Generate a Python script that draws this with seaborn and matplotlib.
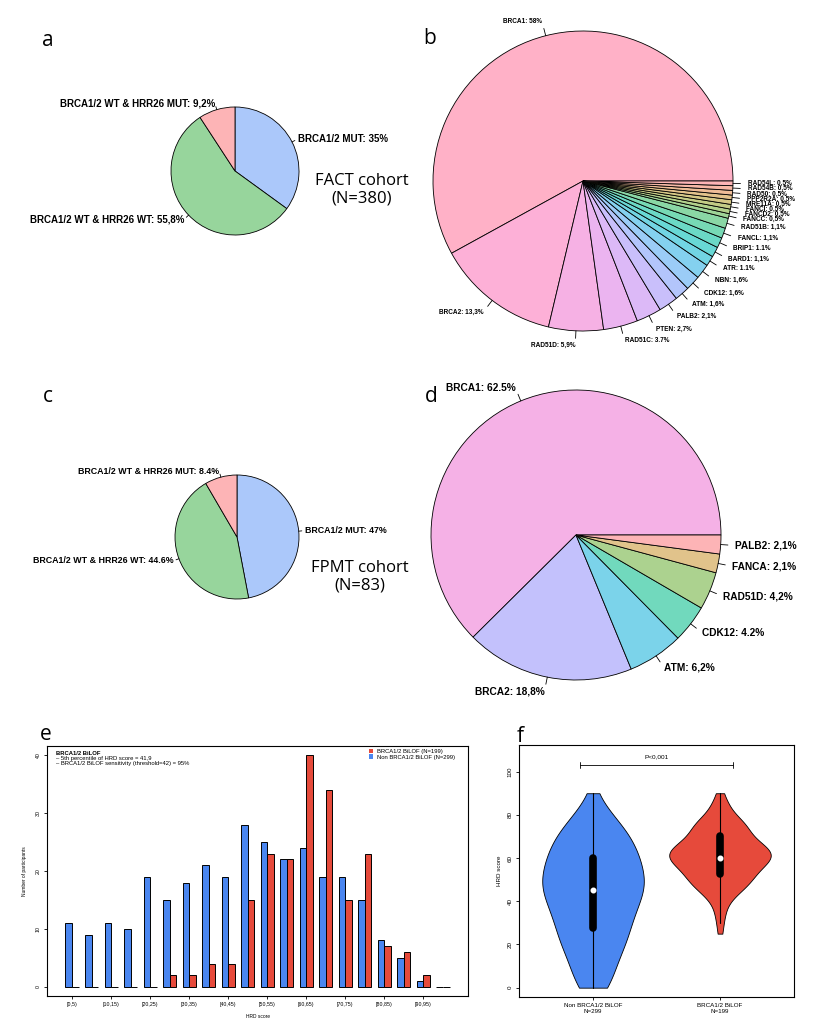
import numpy as np
import pandas as pd
import matplotlib
matplotlib.use("Agg")
import matplotlib.pyplot as plt
from matplotlib.patches import Patch
import seaborn as sns
from seaborn.external import husl

# panels a / c: BRCA1/2 and HRR26 status
fact_status_pct = [35, 55.8, 9.2]
fact_status_labels = ["BRCA1/2 MUT: 35%", "BRCA1/2 WT & HRR26 WT: 55,8%",
                      "BRCA1/2 WT & HRR26 MUT: 9,2%"]
fpmt_status_pct = [47, 44.6, 8.4]
fpmt_status_labels = ["BRCA1/2 MUT: 47%", "BRCA1/2 WT & HRR26 WT: 44.6%",
                      "BRCA1/2 WT & HRR26 MUT: 8.4%"]

# panel b: mutated genes, FACT cohort
fact_genes = ["BRCA1", "BRCA2", "RAD51D", "RAD51C", "PTEN", "PALB2", "ATM", "CDK12",
              "NBN", "ATR", "BARD1", "BRIP1", "FANCL", "RAD51B", "FANCC", "FANCD2",
              "FANCI", "MRE11A", "PPP2R2A", "RAD50", "RAD54B", "RAD54L"]
fact_pct = [58, 13.3, 5.9, 3.7, 2.7, 2.1, 1.6, 1.6, 1.6, 1.1, 1.1, 1.1, 1.1, 1.1,
            0.5, 0.5, 0.5, 0.5, 0.5, 0.5, 0.5, 0.5]
fact_pct_txt = ["58%", "13,3%", "5,9%", "3.7%", "2,7%", "2,1%", "1,6%", "1,6%", "1,6%",
                "1.1%", "1,1%", "1.1%", "1,1%", "1,1%", "0,5%", "0,5%", "0,5%", "0,5%",
                "0,5%", "0,5%", "0,5%", "0,5%"]

# panel d: mutated genes, FPMT cohort
fpmt_genes = ["BRCA1", "BRCA2", "ATM", "CDK12", "RAD51D", "FANCA", "PALB2"]
fpmt_pct = [62.5, 18.8, 6.2, 4.2, 4.2, 2.1, 2.1]
fpmt_pct_txt = ["62.5%", "18,8%", "6,2%", "4.2%", "4,2%", "2,1%", "2,1%"]

# panel e / f: HRD score distribution
hrd_bins = ["[0,5)", "[5,10)", "[10,15)", "[15,20)", "[20,25)", "[25,30)", "[30,35)",
            "[35,40)", "[40,45)", "[45,50)", "[50,55)", "[55,60)", "[60,65)", "[65,70)",
            "[70,75)", "[75,80)", "[80,85)", "[85,90)", "[90,95)", "[95,100)"]
hrd_bin_lo = [0, 5, 10, 15, 20, 25, 30, 35, 40, 45, 50, 55, 60, 65, 70, 75, 80, 85, 90, 95]
count_non = [11, 9, 11, 10, 19, 15, 18, 21, 19, 28, 25, 22, 24, 19, 19, 15, 8, 5, 1, 0]
count_bilof = [0, 0, 0, 0, 0, 2, 2, 4, 4, 15, 23, 22, 40, 34, 15, 23, 7, 6, 2, 0]
grp_non = "Non BRCA1/2 BiLOF"
grp_bilof = "BRCA1/2 BiLOF"

BLUE = "#4A86F0"
RED = "#E64A3B"

sns.set_theme(style="ticks")
plt.rcParams["font.family"] = ["Liberation Sans", "DejaVu Sans"]
plt.rcParams["text.color"] = "black"
plt.rcParams["axes.labelcolor"] = "black"

W, H = 824, 1024
fig = plt.figure(figsize=(W / 100, H / 100), dpi=100)


def px_axes(x0, y0, x1, y1):
    return fig.add_axes([x0 / W, 1 - y1 / H, (x1 - x0) / W, (y1 - y0) / H])


def hcl_colors(n):
    # rainbow_hcl style, hues running backwards round the wheel
    cols = []
    for k in range(n - 1, -1, -1):
        rgb = husl.lch_to_rgb(80, 48, (10 + 360 * k / n) % 360)
        cols.append(tuple(min(max(v, 0), 1) for v in rgb))
    return cols


def draw_pie(cx, cy, r, values, labels, start, clockwise, fontsize):
    span = 2.2
    ax = px_axes(cx - span * r, cy - span * r, cx + span * r, cy + span * r)
    wedges, texts = ax.pie(values, labels=labels, colors=hcl_colors(len(values)),
                           startangle=start, counterclock=not clockwise,
                           labeldistance=1.1,
                           wedgeprops=dict(edgecolor="black", linewidth=0.6),
                           textprops=dict(fontsize=fontsize, fontweight="bold",
                                          color="black"))
    for w in wedges:
        t = np.deg2rad((w.theta1 + w.theta2) / 2)
        ax.plot([np.cos(t), 1.05 * np.cos(t)], [np.sin(t), 1.05 * np.sin(t)],
                color="black", lw=0.6, clip_on=False)
    ax.set_xlim(-span, span)
    ax.set_ylim(-span, span)
    ax.set_aspect("equal")
    ax.axis("off")
    return ax


# pies
draw_pie(235, 171, 64, fact_status_pct, fact_status_labels, 90, True, 7)
draw_pie(583, 181, 150, fact_pct, [f"{g}: {p}" for g, p in zip(fact_genes, fact_pct_txt)],
         0, False, 4.7)
draw_pie(237, 537, 62, fpmt_status_pct, fpmt_status_labels, 90, True, 6.4)
draw_pie(576, 535, 145, fpmt_pct, [f"{g}: {p}" for g, p in zip(fpmt_genes, fpmt_pct_txt)],
         0, False, 7.3)

fig.text(362 / W, 1 - 190 / H, "FACT cohort\n(N=380)", fontsize=12, family="Open Sans",
         ha="center", va="center", linespacing=1.1)
fig.text(360 / W, 1 - 577 / H, "FPMT cohort\n(N=83)", fontsize=12, family="Open Sans",
         ha="center", va="center", linespacing=1.1)

for letter, x, y in [("a", 48, 40), ("b", 430, 38), ("c", 48, 397),
                     ("d", 431, 397), ("e", 46, 735), ("f", 520, 737)]:
    fig.text(x / W, 1 - y / H, letter, fontsize=15, family="Open Sans",
             ha="center", va="center")


def style_box(ax, fs):
    for s in ax.spines.values():
        s.set_visible(True)
        s.set_color("black")
        s.set_linewidth(0.8)
    ax.tick_params(length=2.5, width=0.6, labelsize=fs, pad=2, colors="black")
    for t in ax.get_yticklabels():
        t.set_rotation(90)
        t.set_va("center")


# panel e: histogram
ax_e = px_axes(47, 746, 468, 996)
hist_df = pd.DataFrame({
    "bin": hrd_bins * 2,
    "group": [grp_non] * len(hrd_bins) + [grp_bilof] * len(hrd_bins),
    "count": count_non + count_bilof,
})
sns.barplot(data=hist_df, x="bin", y="count", hue="group", order=hrd_bins,
            hue_order=[grp_non, grp_bilof], palette=[BLUE, RED], width=2 / 3,
            saturation=1, edgecolor="black", linewidth=0.7, errorbar=None,
            legend=False, ax=ax_e)
ax_e.set_xlim(-1.28, 20.28)
ax_e.set_ylim(-1.6, 41.6)
ax_e.set_xticks(range(0, 20, 2))
ax_e.set_xticklabels(hrd_bins[::2])
ax_e.set_yticks([0, 10, 20, 30, 40])
ax_e.set_xlabel("HRD score", fontsize=3.5, labelpad=5)
ax_e.set_ylabel("Number of participants", fontsize=3.5, labelpad=6)
style_box(ax_e, 3.8)

ax_e.text(0.021, 0.97, "BRCA1/2 BiLOF", transform=ax_e.transAxes, fontsize=4.2,
          fontweight="bold", va="center")
ax_e.text(0.021, 0.951, "– 5th percentile of HRD score = 41,9", transform=ax_e.transAxes,
          fontsize=4.2, va="center")
ax_e.text(0.021, 0.932, "– BRCA1/2 BiLOF sensitivity (threshold=42) = 95%",
          transform=ax_e.transAxes, fontsize=4.2, va="center")
handles = [Patch(facecolor=RED, edgecolor="none", label=f"{grp_bilof} (N={sum(count_bilof)})"),
           Patch(facecolor=BLUE, edgecolor="none", label=f"{grp_non} (N={sum(count_non)})")]
ax_e.legend(handles=handles, loc="upper left", bbox_to_anchor=(0.765, 0.99), frameon=False,
            fontsize=4.2, handlelength=0.7, handleheight=0.7, handletextpad=0.6,
            labelspacing=0.15, borderpad=0, borderaxespad=0)

# panel f: violins built from the same HRD score counts
hrd_non = np.repeat(hrd_bin_lo, count_non)
hrd_bilof = np.repeat(hrd_bin_lo, count_bilof)
vio_df = pd.DataFrame({
    "group": [grp_non] * len(hrd_non) + [grp_bilof] * len(hrd_bilof),
    "hrd": np.concatenate([hrd_non, hrd_bilof]),
})
ax_f = px_axes(519, 745, 794, 997)
sns.violinplot(data=vio_df, x="group", y="hrd", hue="group", order=[grp_non, grp_bilof],
               hue_order=[grp_non, grp_bilof], palette=[BLUE, RED], saturation=1, cut=0,
               width=0.8, density_norm="width", bw_adjust=1.1, linewidth=0.6,
               linecolor="black", inner="box",
               inner_kws=dict(box_width=5.5, whis_width=0.8, marker="o"),
               legend=False, ax=ax_f)
for ln in ax_f.lines:
    if ln.get_marker() == "o":
        ln.set_markersize(3.2)
ax_f.set_xlim(-0.583, 1.583)
ax_f.set_ylim(-4.32, 112.32)
ax_f.set_xticks([0, 1])
ax_f.set_xticklabels([f"{grp_non}\nN={sum(count_non)}", f"{grp_bilof}\nN={sum(count_bilof)}"])
ax_f.set_yticks([0, 20, 40, 60, 80, 100])
ax_f.set_xlabel("")
ax_f.set_ylabel("HRD score", fontsize=4.5, labelpad=4)
style_box(ax_f, 4.5)

ax_f.plot([-0.1, 1.1], [103, 103], color="black", lw=0.6)
for xe in (-0.1, 1.1):
    ax_f.plot([xe, xe], [101.7, 104.3], color="black", lw=0.6)
ax_f.text(0.5, 107, "P<0,001", ha="center", va="center", fontsize=4.6)

fig.savefig("out.png", dpi=100)
